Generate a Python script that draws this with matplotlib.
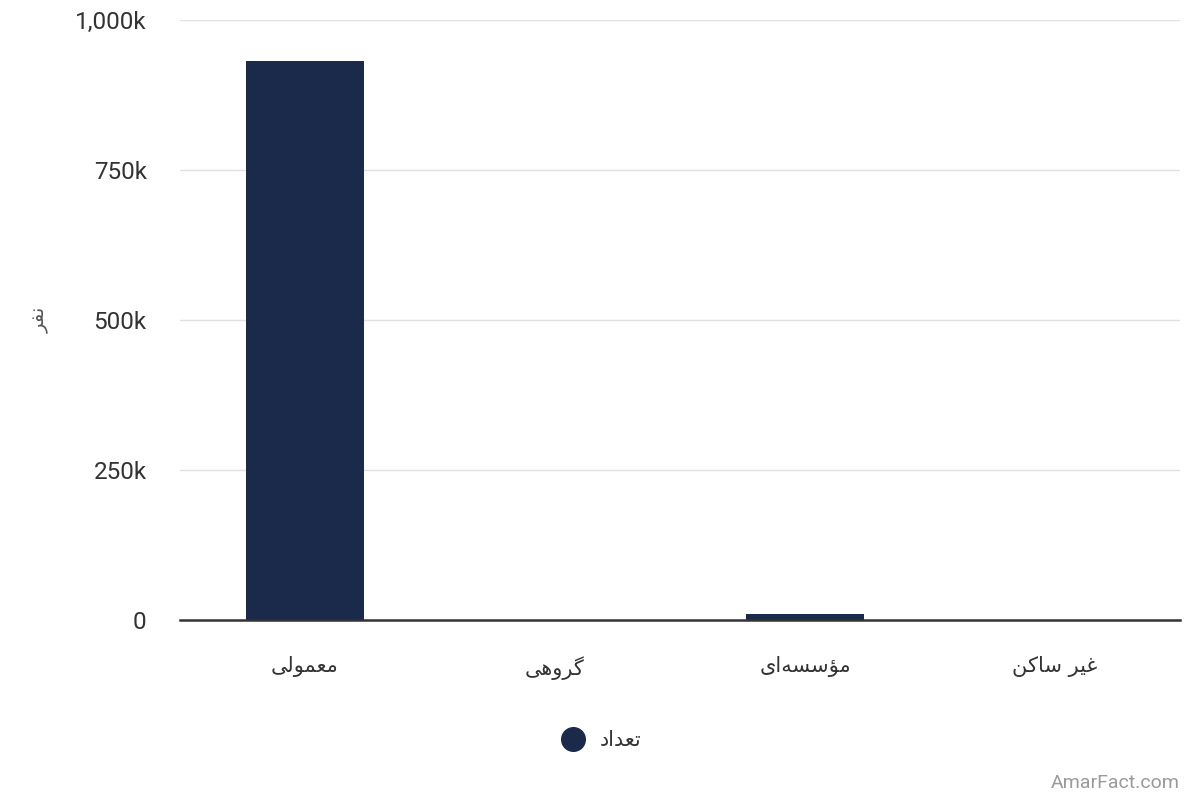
import matplotlib
matplotlib.use("Agg")
import matplotlib.pyplot as plt
from matplotlib.lines import Line2D
from matplotlib.ticker import FuncFormatter

# Arabic-script labels written in presentation forms, visual (left-to-right) order,
# since matplotlib does no shaping / bidi on its own.
categories = ["\uFEF0\uFEDF\uFEEE\uFEE4\uFECC\uFEE3",          # معمولی
              "\uFEF0\uFEEB\uFEED\uFEAE\uFB94",                # گروهی
              "\uFEEF\uFE8D\uFEEA\uFEB4\uFEB3\uFE86\uFEE3",    # مؤسسه‌ای
              "\uFEE6\uFB90\uFE8E\uFEB3 \uFEAE\uFEF4\uFECF"]   # غیر ساکن
values = [932000, 300, 10000, 100]
series_name = "\uFEA9\uFE8D\uFEAA\uFECC\uFE97"   # تعداد
y_label = "\uFEAE\uFED4\uFEE7"                    # نفر
y_ticks = [0, 250000, 500000, 750000, 1000000]

bar_color = "#1b2a4b"

plt.rcParams['font.family'] = ['Roboto', 'DejaVu Sans']

fig = plt.figure(figsize=(12, 8), dpi=100)
ax = fig.add_axes([0.15, 0.225, 0.8333, 0.75])

x = range(len(categories))
ax.bar(x, values, width=0.47, color=bar_color, zorder=3)

ax.set_xlim(-0.5, len(categories) - 0.5)
ax.set_ylim(0, 1000000)
ax.set_yticks(y_ticks)
ax.yaxis.set_major_formatter(FuncFormatter(lambda v, p: "0" if v == 0 else f"{v/1000:,.0f}k"))
ax.set_xticks(list(x))
ax.set_xticklabels(categories, fontsize=15, color="#333333", family=['DejaVu Sans'])

ax.tick_params(axis='y', length=0, pad=24, labelsize=17.5, labelcolor="#333333")
for t in ax.get_yticklabels():
    t.set_verticalalignment('center_baseline')
ax.tick_params(axis='x', length=0, pad=26)

ax.grid(axis='y', color="#e0e0e0", linewidth=1, zorder=0)
for s in ['top', 'right', 'left']:
    ax.spines[s].set_visible(False)
ax.spines['bottom'].set_color("#333333")
ax.spines['bottom'].set_linewidth(1.8)
ax.spines['bottom'].set_zorder(4)

fig.text(40 / 1200, 1 - 320 / 800, y_label, rotation=90, ha='center', va='center',
         fontsize=14, color="#555555", family=['DejaVu Sans'])

handle = Line2D([], [], marker='o', linestyle='none', markersize=17,
                markerfacecolor=bar_color, markeredgecolor=bar_color)
leg = fig.legend([handle], [series_name], loc='center', bbox_to_anchor=(597 / 1200, 1 - 740 / 800),
                 frameon=False, handletextpad=0.3, prop={'family': 'DejaVu Sans', 'size': 15})
for t in leg.get_texts():
    t.set_color("#333333")

fig.text(1180 / 1200, 1 - 783 / 800, "AmarFact.com", ha='right', va='center',
         fontsize=14, color="#9a9a9a")

fig.savefig("out.png", dpi=100)
